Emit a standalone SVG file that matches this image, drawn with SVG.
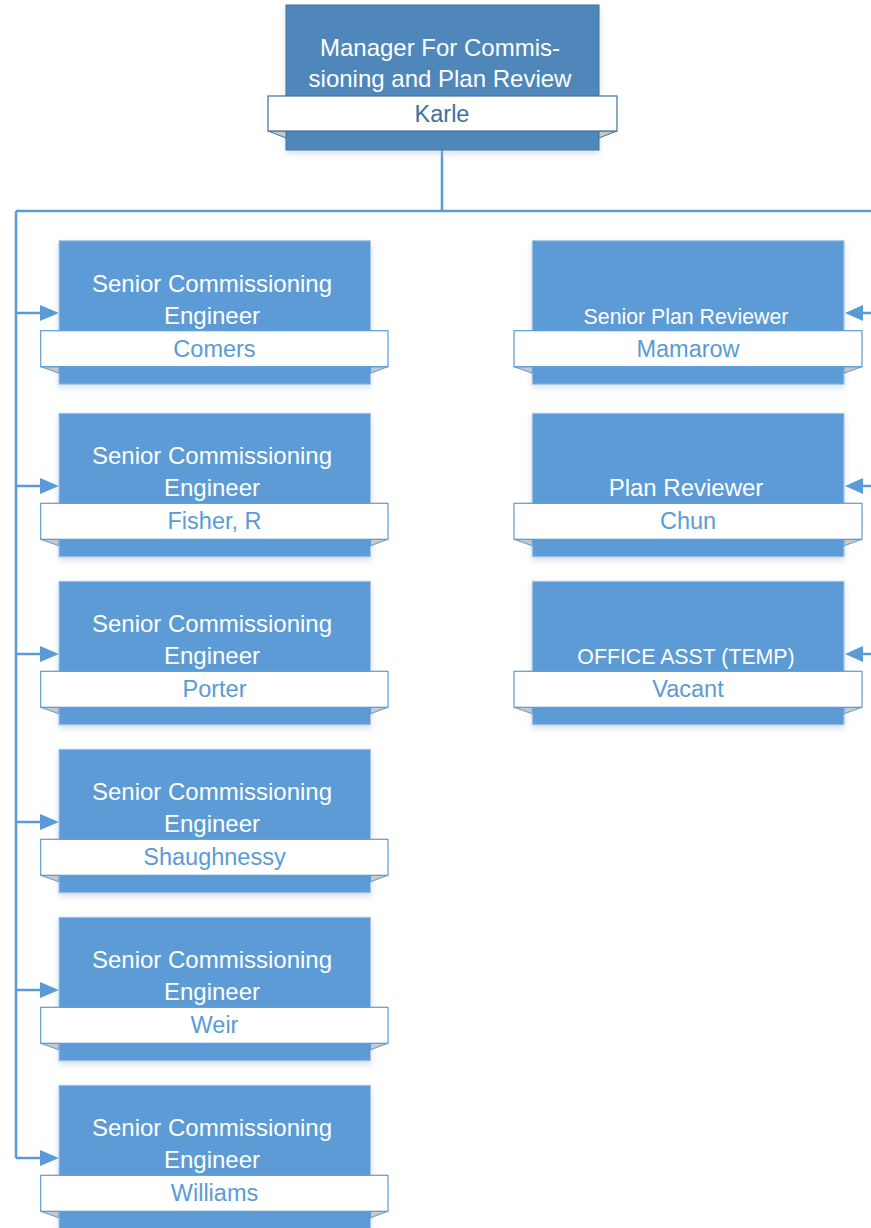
<svg xmlns="http://www.w3.org/2000/svg" width="871" height="1228" viewBox="0 0 871 1228">
<defs>
<style>
.box{fill:#5b9bd5;stroke:#a9c6e4;stroke-width:1}
.topbox{fill:#4f87bb;stroke:#41719c;stroke-width:1}
.band{fill:#ffffff;stroke:#5b9bd5;stroke-width:1.2}
.topband{fill:#ffffff;stroke:#41719c;stroke-width:1.2}
.fold{fill:#c6c9cc;stroke:#5b9bd5;stroke-width:1}
.topfold{fill:#c6c9cc;stroke:#41719c;stroke-width:1}
.t{font-family:"Liberation Sans",Arial,sans-serif;font-size:24px;fill:#ffffff;text-anchor:middle}
.ts{font-family:"Liberation Sans",Arial,sans-serif;font-size:21.3px;fill:#ffffff;text-anchor:middle}
.n{font-family:"Liberation Sans",Arial,sans-serif;font-size:23.5px;fill:#5b9bd5;text-anchor:middle}
.tn{font-family:"Liberation Sans",Arial,sans-serif;font-size:23.5px;fill:#41719c;text-anchor:middle}
.c{fill:none;stroke:#5b9bd5;stroke-width:2.5}
.ah{fill:#5b9bd5}
</style>
<filter id="sh" x="-10%" y="-10%" width="120%" height="130%">
<feDropShadow dx="0" dy="3" stdDeviation="3" flood-color="#9fb9d6" flood-opacity="0.45"/>
</filter>
</defs>

<g id="connectors">
<path class="c" d="M442,150 V211"/>
<path class="c" d="M16,211 H871"/>
<path class="c" d="M16,211 V1158"/>
<path class="c" d="M16,313 H42"/>
<path class="c" d="M16,486 H42"/>
<path class="c" d="M16,654 H42"/>
<path class="c" d="M16,822 H42"/>
<path class="c" d="M16,990 H42"/>
<path class="c" d="M16,1158 H42"/>
<path class="ah" d="M59,313 L40,305 L40,321 Z"/>
<path class="ah" d="M59,486 L40,478 L40,494 Z"/>
<path class="ah" d="M59,654 L40,646 L40,662 Z"/>
<path class="ah" d="M59,822 L40,814 L40,830 Z"/>
<path class="ah" d="M59,990 L40,982 L40,998 Z"/>
<path class="ah" d="M59,1158 L40,1150 L40,1166 Z"/>
<path class="c" d="M871,313 H860"/>
<path class="c" d="M871,486 H860"/>
<path class="c" d="M871,654 H860"/>
<path class="ah" d="M845,313 L863,305 L863,321 Z"/>
<path class="ah" d="M845,486 L863,478 L863,494 Z"/>
<path class="ah" d="M845,654 L863,646 L863,662 Z"/>
</g>

<g id="node-karle">
<rect class="topbox" x="286" y="5" width="313" height="145" filter="url(#sh)"/>
<path class="topfold" d="M268,131 L286,131 L286,138 Z"/>
<path class="topfold" d="M617,131 L599,131 L599,138 Z"/>
<rect class="topband" x="268" y="96" width="349" height="35"/>
<text class="t" x="440" y="56">Manager For Commis-</text>
<text class="t" x="440" y="87">sioning and Plan Review</text>
<text class="tn" x="442" y="122">Karle</text>
</g>

<g id="node-comers" transform="translate(0,240.7)">
<rect class="box" x="59" y="0" width="311.5" height="143.5" filter="url(#sh)"/>
<path class="fold" d="M40.7,126 L59,126 L59,132.5 Z"/>
<path class="fold" d="M388,126 L370.5,126 L370.5,132.5 Z"/>
<rect class="band" x="40.7" y="90" width="347.3" height="36"/>
<text class="t" x="212" y="51">Senior Commissioning</text>
<text class="t" x="212" y="83">Engineer</text>
<text class="n" x="214.5" y="116">Comers</text>
</g>

<g id="node-fisher" transform="translate(0,413.3)">
<rect class="box" x="59" y="0" width="311.5" height="143.5" filter="url(#sh)"/>
<path class="fold" d="M40.7,126 L59,126 L59,132.5 Z"/>
<path class="fold" d="M388,126 L370.5,126 L370.5,132.5 Z"/>
<rect class="band" x="40.7" y="90" width="347.3" height="36"/>
<text class="t" x="212" y="51">Senior Commissioning</text>
<text class="t" x="212" y="83">Engineer</text>
<text class="n" x="214.5" y="116">Fisher, R</text>
</g>

<g id="node-porter" transform="translate(0,581.3)">
<rect class="box" x="59" y="0" width="311.5" height="143.5" filter="url(#sh)"/>
<path class="fold" d="M40.7,126 L59,126 L59,132.5 Z"/>
<path class="fold" d="M388,126 L370.5,126 L370.5,132.5 Z"/>
<rect class="band" x="40.7" y="90" width="347.3" height="36"/>
<text class="t" x="212" y="51">Senior Commissioning</text>
<text class="t" x="212" y="83">Engineer</text>
<text class="n" x="214.5" y="116">Porter</text>
</g>

<g id="node-shaughnessy" transform="translate(0,749.3)">
<rect class="box" x="59" y="0" width="311.5" height="143.5" filter="url(#sh)"/>
<path class="fold" d="M40.7,126 L59,126 L59,132.5 Z"/>
<path class="fold" d="M388,126 L370.5,126 L370.5,132.5 Z"/>
<rect class="band" x="40.7" y="90" width="347.3" height="36"/>
<text class="t" x="212" y="51">Senior Commissioning</text>
<text class="t" x="212" y="83">Engineer</text>
<text class="n" x="214.5" y="116">Shaughnessy</text>
</g>

<g id="node-weir" transform="translate(0,917.3)">
<rect class="box" x="59" y="0" width="311.5" height="143.5" filter="url(#sh)"/>
<path class="fold" d="M40.7,126 L59,126 L59,132.5 Z"/>
<path class="fold" d="M388,126 L370.5,126 L370.5,132.5 Z"/>
<rect class="band" x="40.7" y="90" width="347.3" height="36"/>
<text class="t" x="212" y="51">Senior Commissioning</text>
<text class="t" x="212" y="83">Engineer</text>
<text class="n" x="214.5" y="116">Weir</text>
</g>

<g id="node-williams" transform="translate(0,1085.3)">
<rect class="box" x="59" y="0" width="311.5" height="143.5" filter="url(#sh)"/>
<path class="fold" d="M40.7,126 L59,126 L59,132.5 Z"/>
<path class="fold" d="M388,126 L370.5,126 L370.5,132.5 Z"/>
<rect class="band" x="40.7" y="90" width="347.3" height="36"/>
<text class="t" x="212" y="51">Senior Commissioning</text>
<text class="t" x="212" y="83">Engineer</text>
<text class="n" x="214.5" y="116">Williams</text>
</g>

<g id="node-mamarow" transform="translate(0,240.7)">
<rect class="box" x="532.3" y="0" width="311.7" height="143.5" filter="url(#sh)"/>
<path class="fold" d="M514,126 L532.3,126 L532.3,132.5 Z"/>
<path class="fold" d="M862,126 L844,126 L844,132.5 Z"/>
<rect class="band" x="514" y="90" width="348" height="36"/>
<text class="ts" x="686" y="83">Senior Plan Reviewer</text>
<text class="n" x="688" y="116">Mamarow</text>
</g>

<g id="node-chun" transform="translate(0,413.3)">
<rect class="box" x="532.3" y="0" width="311.7" height="143.5" filter="url(#sh)"/>
<path class="fold" d="M514,126 L532.3,126 L532.3,132.5 Z"/>
<path class="fold" d="M862,126 L844,126 L844,132.5 Z"/>
<rect class="band" x="514" y="90" width="348" height="36"/>
<text class="t" x="686" y="83">Plan Reviewer</text>
<text class="n" x="688" y="116">Chun</text>
</g>

<g id="node-vacant" transform="translate(0,581.3)">
<rect class="box" x="532.3" y="0" width="311.7" height="143.5" filter="url(#sh)"/>
<path class="fold" d="M514,126 L532.3,126 L532.3,132.5 Z"/>
<path class="fold" d="M862,126 L844,126 L844,132.5 Z"/>
<rect class="band" x="514" y="90" width="348" height="36"/>
<text class="ts" x="686" y="83">OFFICE ASST (TEMP)</text>
<text class="n" x="688" y="116">Vacant</text>
</g>
</svg>
